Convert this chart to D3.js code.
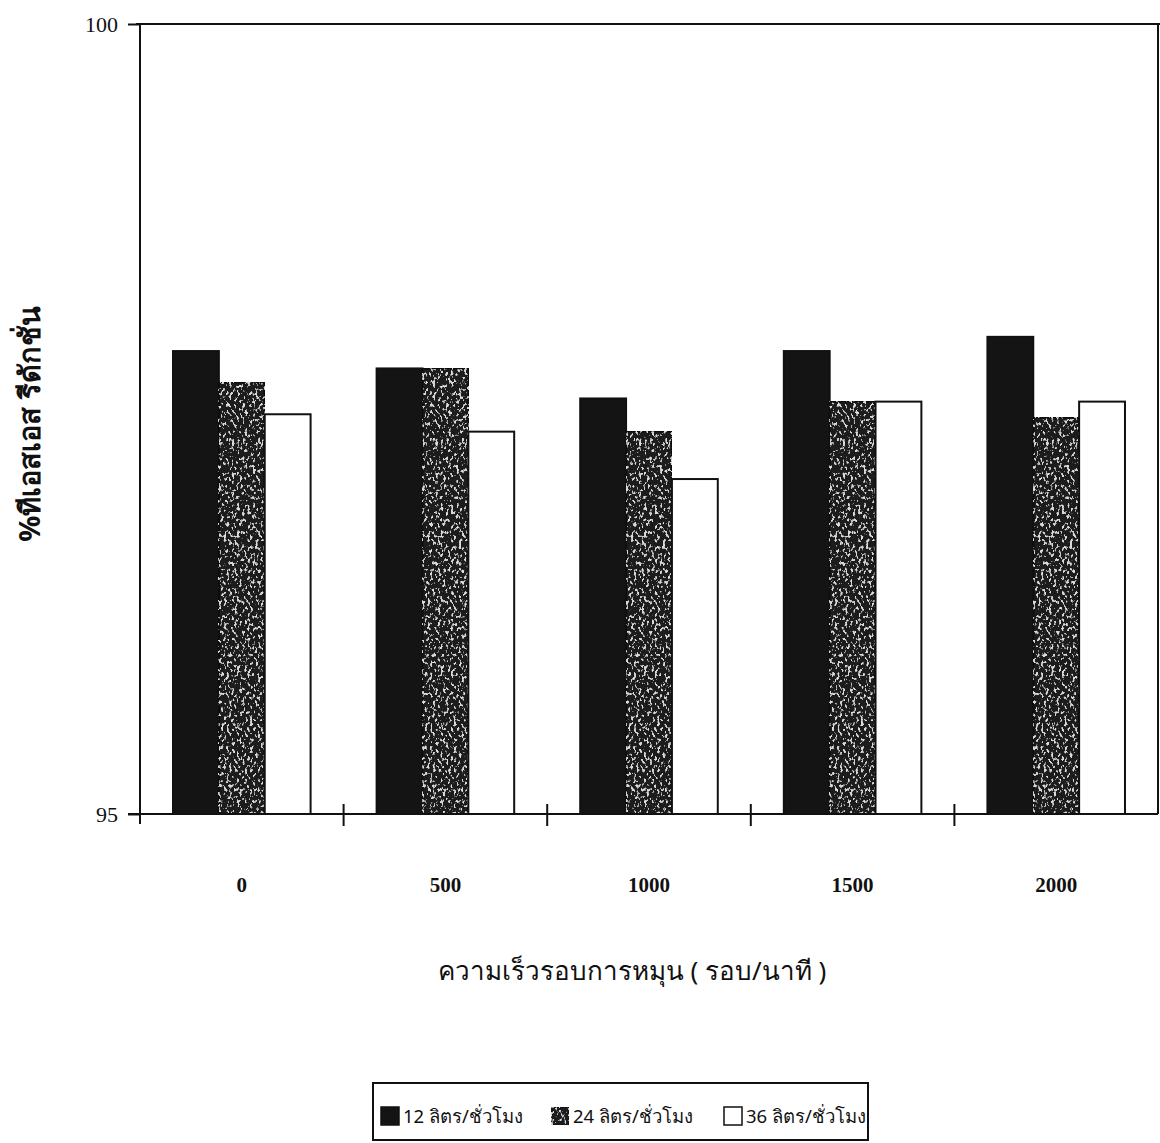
<!DOCTYPE html>
<html>
<head>
<meta charset="utf-8">
<script src="https://cdn.jsdelivr.net/npm/d3@7"></script>
<style>
  html, body { margin: 0; padding: 0; background: #fff; }
  svg { display: block; }
</style>
</head>
<body>
<script>
// Rotation speeds (rpm) on the x axis
const categories = ["0", "500", "1000", "1500", "2000"];
// Flow-rate series
const seriesNames = ["12 ลิตร/ชั่วโมง", "24 ลิตร/ชั่วโมง", "36 ลิตร/ชั่วโมง"];
const flow12 = [97.93, 97.82, 97.63, 97.93, 98.02];
const flow24 = [97.73, 97.82, 97.42, 97.61, 97.51];
const flow36 = [97.53, 97.42, 97.12, 97.61, 97.61];
const yTicks = [95, 100];
const xTitle = "ความเร็วรอบการหมุน ( รอบ/นาที )";
const yTitle = "%ทีเอสเอส รีดักชั่น";

const W = 1160, H = 1143;
const plot = { left: 140, right: 1158, top: 24, bottom: 814 };

const svg = d3.select("body").append("svg")
  .attr("width", W).attr("height", H);

const defs = svg.append("defs");
// speckled texture for the middle series
const f = defs.append("filter").attr("id", "speckle")
  .attr("x", 0).attr("y", 0).attr("width", 1).attr("height", 1)
  .attr("filterUnits", "objectBoundingBox");
f.append("feTurbulence").attr("type", "fractalNoise")
  .attr("baseFrequency", "0.38 0.26").attr("numOctaves", 2).attr("seed", 7)
  .attr("result", "noise");
f.append("feColorMatrix").attr("in", "noise").attr("type", "matrix")
  .attr("values", "0 0 0 0 0.7  0 0 0 0 0.7  0 0 0 0 0.7  10 0 0 0 -5.7")
  .attr("result", "spots");
f.append("feComposite").attr("in", "spots").attr("in2", "SourceGraphic")
  .attr("operator", "atop");

const series = [
  { name: seriesNames[0], values: flow12, fill: "#141414", filter: null },
  { name: seriesNames[1], values: flow24, fill: "#1e1e1e", filter: "url(#speckle)" },
  { name: seriesNames[2], values: flow36, fill: "#ffffff", filter: null }
];

const x0 = d3.scaleBand().domain(categories).range([plot.left, plot.right]).padding(0);
const x1 = d3.scaleBand().domain(d3.range(series.length))
  .range([0, x0.bandwidth()]).paddingInner(0).paddingOuter(0.72);
const y = d3.scaleLinear().domain([95, 100]).range([plot.bottom, plot.top]);

// bars
const groups = svg.append("g").selectAll("g").data(categories).join("g")
  .attr("transform", d => `translate(${x0(d)},0)`);

groups.selectAll("rect")
  .data((c, i) => series.map((s, k) => ({ k, v: s.values[i], s })))
  .join("rect")
  .attr("x", d => x1(d.k))
  .attr("y", d => y(d.v))
  .attr("width", x1.bandwidth())
  .attr("height", d => plot.bottom - y(d.v))
  .attr("fill", d => d.s.fill)
  .attr("filter", d => d.s.filter)
  .attr("stroke", "#111")
  .attr("stroke-width", 2);

// frame
const frame = svg.append("g").attr("fill", "none").attr("stroke", "#111").attr("stroke-width", 2);
frame.append("line").attr("x1", plot.left - 4).attr("x2", W).attr("y1", plot.top).attr("y2", plot.top);
frame.append("line").attr("x1", plot.left).attr("x2", plot.left).attr("y1", plot.top).attr("y2", plot.bottom + 10);
frame.append("line").attr("x1", plot.right).attr("x2", plot.right).attr("y1", plot.top).attr("y2", plot.bottom);

// y axis
const yAxis = svg.append("g").attr("transform", `translate(${plot.left},0)`)
  .call(d3.axisLeft(y).tickValues(yTicks).tickSize(12).tickPadding(10).tickFormat(d3.format("d")));
yAxis.select(".domain").remove();
yAxis.selectAll("line").attr("stroke", "#111").attr("stroke-width", 2);
yAxis.selectAll("text")
  .attr("font-family", "'Liberation Serif', serif")
  .attr("font-size", 22).attr("fill", "#111");

// x axis: baseline with ticks at band boundaries
const xAxis = svg.append("g").attr("transform", `translate(0,${plot.bottom})`);
xAxis.append("line").attr("x1", plot.left - 12).attr("x2", plot.right)
  .attr("y1", 0).attr("y2", 0).attr("stroke", "#111").attr("stroke-width", 2);
xAxis.selectAll("line.tick").data(categories.slice(1)).join("line")
  .attr("class", "tick")
  .attr("x1", d => x0(d)).attr("x2", d => x0(d))
  .attr("y1", -10).attr("y2", 12)
  .attr("stroke", "#111").attr("stroke-width", 2);
xAxis.selectAll("text").data(categories).join("text")
  .attr("x", d => x0(d) + x0.bandwidth() / 2)
  .attr("y", 78)
  .attr("text-anchor", "middle")
  .attr("font-family", "'Liberation Serif', serif")
  .attr("font-weight", "bold")
  .attr("font-size", 21).attr("fill", "#111")
  .text(d => d);

// axis titles
svg.append("text")
  .attr("x", 632).attr("y", 980)
  .attr("text-anchor", "middle")
  .attr("font-family", "'Noto Sans', sans-serif")
  .attr("font-size", 26).attr("fill", "#111")
  .text(xTitle);

svg.append("text")
  .attr("transform", "translate(40,424) rotate(-90)")
  .attr("text-anchor", "middle")
  .attr("font-family", "'Noto Sans', sans-serif")
  .attr("font-weight", "bold")
  .attr("font-size", 29).attr("fill", "#111")
  .text(yTitle);

// legend
const lg = svg.append("g").attr("transform", "translate(373,1083)");
lg.append("rect").attr("width", 495).attr("height", 57)
  .attr("fill", "none").attr("stroke", "#111").attr("stroke-width", 2);
const itemX = [8, 178, 351];
const items = lg.selectAll("g.item").data(series).join("g")
  .attr("class", "item")
  .attr("transform", (d, i) => `translate(${itemX[i]},24)`);
items.append("rect").attr("width", 18).attr("height", 18)
  .attr("fill", d => d.fill).attr("filter", d => d.filter)
  .attr("stroke", "#111").attr("stroke-width", 1.5);
items.append("text").attr("x", 22).attr("y", 16)
  .attr("font-family", "'Noto Sans', sans-serif")
  .attr("font-size", 18.5).attr("fill", "#111")
  .text(d => d.name);
</script>
</body>
</html>
